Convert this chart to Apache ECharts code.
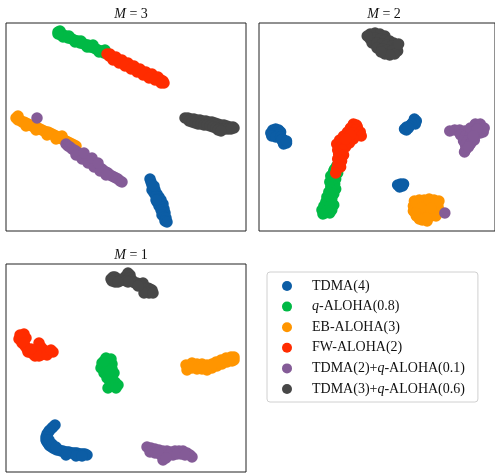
<!DOCTYPE html>
<html>
<head>
<meta charset="utf-8">
<script src="https://cdn.jsdelivr.net/npm/echarts@6/dist/echarts.min.js"></script>
<style>
  html, body { margin: 0; padding: 0; background: #fff; }
  #chart { width: 495px; height: 476px; }
</style>
</head>
<body>
<div id="chart"></div>
<script>
// Protocol names (legend order) and their colours
const protocols = [
  'TDMA(4)',
  'q-ALOHA(0.8)',
  'EB-ALOHA(3)',
  'FW-ALOHA(2)',
  'TDMA(2)+q-ALOHA(0.1)',
  'TDMA(3)+q-ALOHA(0.6)'
];
const colors = ['#0C5DA5', '#00B945', '#FF9500', '#FF2C00', '#845B97', '#474747'];
const panelTitles = ['3', '2', '1'];

// 2-D embedding coordinates, M = 3
const m3_tdma4 = [[144,156],[145,159],[146,162],[147,165],[146,167],[149,167],[148,170],[151,171],[150,173],[153,174],[152,176],[155,177],[151,179],[154,180],[157,181],[153,183],[156,184],[158,186],[155,187],[157,189],[159,190],[156,192],[158,194],[160,195],[159,198],[161,199],[148,163],[150,177]];
const m3_qaloha = [[52,9],[54,11],[56,11],[58,13],[60,13],[62,15],[64,15],[66,16],[68,17],[70,18],[72,18],[74,20],[76,20],[78,21],[80,22],[82,22],[84,24],[86,24],[88,25],[90,26],[92,27],[94,28],[96,28],[98,30],[100,30],[102,31],[104,33],[54,8],[57,14],[63,13],[69,19],[75,18],[81,24],[87,22],[93,29],[99,27],[55,12],[52,11]];
const m3_ebaloha = [[10,95],[12,97],[14,97],[16,99],[18,99],[20,100],[22,101],[24,102],[26,103],[28,104],[30,104],[32,105],[34,106],[36,107],[38,108],[40,109],[42,109],[44,110],[46,111],[48,112],[50,113],[52,114],[54,115],[56,116],[58,117],[60,118],[62,119],[64,120],[66,121],[68,122],[70,123],[12,93],[20,103],[30,107],[41,112],[50,116],[56,113]];
const m3_fwaloha = [[101,31],[103,33],[105,33],[107,35],[109,35],[111,37],[113,37],[115,39],[117,39],[119,41],[121,41],[123,43],[125,43],[127,45],[129,45],[131,47],[133,47],[135,49],[137,49],[139,51],[141,51],[143,53],[145,53],[147,54],[149,55],[151,56],[153,56],[155,57],[157,58],[158,60],[104,31],[110,34],[116,37],[122,40],[128,43],[134,46],[140,49],[146,51],[152,54],[107,37],[113,40],[119,43],[125,46],[131,49],[137,52],[143,55],[149,57],[155,60]];
const m3_tdma2q = [[60,121],[62,123],[64,124],[66,126],[68,127],[70,128],[72,130],[74,131],[76,132],[78,134],[80,135],[82,137],[84,138],[86,139],[88,141],[90,142],[92,144],[94,145],[96,146],[98,148],[100,149],[102,150],[104,152],[106,153],[108,154],[110,155],[112,156],[114,158],[116,159],[70,132],[76,136],[82,140],[88,144],[94,148],[100,152],[78,130],[86,135],[92,140],[31,95]];
const m3_tdma3q = [[179,95],[182,95],[185,96],[188,96],[191,97],[194,97],[197,98],[200,98],[203,99],[206,99],[209,100],[212,101],[215,102],[218,102],[221,103],[224,104],[227,104],[228,105],[183,98],[186,99],[189,100],[192,101],[195,101],[198,102],[201,102],[204,103],[207,104],[210,105],[213,106],[216,106],[219,106],[222,106],[225,106],[212,107],[215,108]];

// 2-D embedding coordinates, M = 2
const m2_tdma4 = [[12,110],[14,107],[17,106],[20,107],[22,109],[15,111],[18,110],[20,112],[13,113],[17,114],[22,114],[24,116],[26,118],[28,120],[25,121],[23,117],[28,118],
  [158,96],[160,98],[157,99],[159,101],[155,101],[153,103],[150,104],[148,106],[150,107],[152,105],
  [141,162],[144,161],[147,161],[143,164],[146,163]];
const m2_qaloha = [[79,143],[77,146],[76,148],[80,150],[75,151],[73,153],[78,156],[75,157],[72,159],[77,161],[75,162],[73,164],[78,166],[74,167],[71,169],[76,171],[72,172],[69,174],[74,176],[70,177],[68,179],[73,181],[69,181],[66,183],[71,184],[76,182],[64,187],[69,188],[74,187],[67,190],[72,190],[65,191]];
const m2_ebaloha = [[158,178],[163,177],[168,177],[173,176],[178,177],[183,178],[157,183],[162,182],[167,182],[172,181],[177,182],[182,183],[157,188],[162,187],[167,187],[172,187],[177,188],[183,187],[160,193],[165,192],[170,192],[175,193],[180,193],[166,197],[171,198],[163,196],[160,180],[180,180],[165,185],[175,185],[170,195],[159,190]];
const m2_fwaloha = [[96,101],[99,102],[100,104],[93,105],[98,107],[103,109],[90,109],[95,110],[100,112],[104,113],[86,113],[91,114],[96,116],[82,117],[87,119],[92,120],[79,121],[84,123],[88,124],[80,127],[85,127],[81,131],[86,132],[80,136],[84,138],[80,142],[83,144],[79,146],[78,150],[93,112],[88,116]];
const m2_tdma2q = [[194,108],[199,107],[204,107],[209,108],[205,112],[210,113],[215,112],[220,112],[225,110],[228,109],[208,118],[212,118],[217,118],[210,122],[215,121],[219,117],[210,127],[209,129],[220,101],[225,101],[229,105],[215,105],[222,106],[213,124],[218,113],[189,190]];
const m2_tdma3q = [[113,11],[118,10],[123,11],[128,13],[113,16],[118,15],[123,16],[128,17],[133,18],[137,20],[115,20],[120,20],[125,21],[130,22],[135,23],[140,24],[141,28],[120,25],[125,26],[130,27],[135,28],[138,31],[128,31],[133,32],[124,29],[110,13],[142,21]];

// 2-D embedding coordinates, M = 1
const m1_tdma4 = [[49,161],[47,163],[46,164],[44,166],[43,167],[42,169],[41,170],[40,173],[40,176],[41,178],[42,179],[43,181],[44,182],[46,183],[47,184],[49,185],[51,186],[53,186],[55,187],[57,187],[59,188],[61,188],[63,188],[65,189],[67,189],[69,189],[71,189],[73,190],[75,190],[77,190],[79,190],[81,191],[43,176],[46,180],[50,183],[60,191],[70,192],[76,192]];
const m1_qaloha = [[100,94],[105,95],[96,99],[101,100],[106,100],[95,104],[100,105],[106,105],[98,109],[103,110],[108,109],[101,114],[106,114],[104,118],[109,118],[112,121],[107,122],[102,124],[110,124],[98,97],[104,107]];
const m1_ebaloha = [[180,101],[181,106],[186,99],[186,104],[191,100],[191,105],[196,100],[196,105],[201,101],[201,106],[206,100],[206,104],[210,98],[211,102],[215,96],[216,100],[220,94],[221,98],[225,93],[226,97],[228,93],[228,96],[183,103],[188,102],[193,103],[198,103],[203,103],[208,101],[213,99],[218,97],[223,95]];
const m1_fwaloha = [[14,71],[18,70],[13,75],[17,76],[16,79],[19,82],[21,85],[24,88],[27,90],[31,90],[35,91],[39,89],[43,88],[47,88],[33,79],[35,83],[38,86],[30,86],[20,74],[15,73],[18,79],[22,88],[29,92],[33,92],[41,91],[45,86],[25,85]];
const m1_tdma2q = [[141,183],[145,184],[149,185],[144,188],[149,189],[153,186],[157,187],[155,191],[159,192],[157,196],[161,187],[165,188],[169,187],[173,187],[177,187],[181,189],[184,191],[186,193],[167,191],[175,190],[163,191],[171,190],[179,191],[152,189],[160,194]];
const m1_tdma3q = [[105,15],[107,13],[109,13],[112,15],[109,18],[114,17],[116,16],[118,14],[120,12],[122,9],[124,11],[124,14],[126,16],[127,18],[129,19],[131,19],[134,20],[137,19],[136,22],[138,23],[140,24],[142,24],[144,25],[146,26],[143,29],[140,28],[138,29],[147,29],[120,17],[122,18],[132,22],[106,17],[112,18]];

const panels = [
  [m3_tdma4, m3_qaloha, m3_ebaloha, m3_fwaloha, m3_tdma2q, m3_tdma3q],
  [m2_tdma4, m2_qaloha, m2_ebaloha, m2_fwaloha, m2_tdma2q, m2_tdma3q],
  [m1_tdma4, m1_qaloha, m1_ebaloha, m1_fwaloha, m1_tdma2q, m1_tdma3q]
];

const FONT = 'Liberation Serif';
const gridBoxes = [
  { left: 6,   top: 23,  width: 240, height: 208 },
  { left: 259, top: 23,  width: 240, height: 208 },
  { left: 6,   top: 264, width: 240, height: 208 }
];

const grid = gridBoxes.map(b => Object.assign({
  show: true, borderColor: '#222', borderWidth: 1, backgroundColor: 'transparent'
}, b));
const xAxis = gridBoxes.map((b, i) => ({ type: 'value', gridIndex: i, min: 0, max: 240, show: false }));
const yAxis = gridBoxes.map((b, i) => ({ type: 'value', gridIndex: i, min: 0, max: 208, inverse: true, show: false }));

const title = gridBoxes.map((b, i) => ({
  text: '{i|M} = ' + panelTitles[i],
  left: b.left + b.width / 2,
  top: b.top - 21,
  textAlign: 'center',
  textStyle: {
    fontFamily: FONT, fontSize: 14, fontWeight: 'normal', color: '#111',
    rich: { i: { fontFamily: FONT, fontSize: 14, fontStyle: 'italic', color: '#111' } }
  }
}));

const series = [];
panels.forEach((sets, p) => {
  sets.forEach((pts, k) => {
    series.push({
      type: 'scatter',
      name: protocols[k],
      xAxisIndex: p,
      yAxisIndex: p,
      data: pts,
      symbol: 'circle',
      symbolSize: 11.5,
      itemStyle: { color: colors[k], opacity: 1 },
      emphasis: { disabled: true },
      animation: false
    });
  });
});

const chart = echarts.init(document.getElementById('chart'), null, { renderer: 'canvas' });
chart.setOption({
  backgroundColor: '#fff',
  animation: false,
  color: colors,
  title: title,
  grid: grid,
  xAxis: xAxis,
  yAxis: yAxis,
  legend: {
    data: protocols,
    orient: 'vertical',
    left: 267,
    top: 272,
    icon: 'circle',
    itemWidth: 10,
    itemHeight: 10,
    itemGap: 6.6,
    padding: [7, 13, 6, 15],
    backgroundColor: '#fff',
    borderColor: '#d0d0d0',
    borderWidth: 1,
    borderRadius: 3,
    selectedMode: false,
    formatter: name => name.replace('q-', '{i|q}-'),
    textStyle: {
      fontFamily: FONT, fontSize: 14, color: '#111',
      padding: [0, 0, 0, 15],
      rich: { i: { fontFamily: FONT, fontSize: 14, fontStyle: 'italic', color: '#111' } }
    }
  },
  series: series
});
</script>
</body>
</html>
